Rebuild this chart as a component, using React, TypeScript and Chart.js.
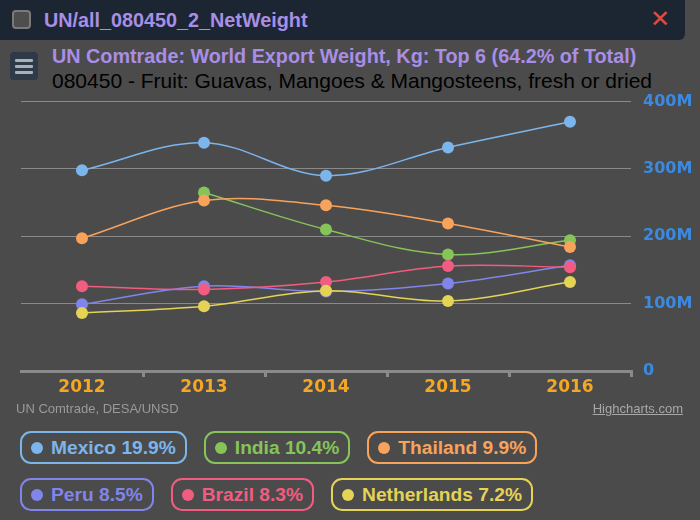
import React, { useEffect, useRef } from "react";
import { Chart, registerables } from "chart.js";

Chart.register(...registerables);

const years = ["2012", "2013", "2014", "2015", "2016"];
const yTicks = [0, 100e6, 200e6, 300e6, 400e6];

const mexico = [298e6, 339e6, 290e6, 332e6, 370e6];
const india = [null, 265e6, 210e6, 173e6, 194e6];
const thailand = [197e6, 253e6, 246e6, 219e6, 184e6];
const peru = [99e6, 126e6, 118e6, 130e6, 157e6];
const brazil = [126e6, 121e6, 132e6, 156e6, 154e6];
const netherlands = [86e6, 96e6, 119e6, 104e6, 132e6];

const seriesNames = ["Mexico", "India", "Thailand", "Peru", "Brazil", "Netherlands"];
const seriesShares = ["19.9%", "10.4%", "9.9%", "8.5%", "8.3%", "7.2%"];
const seriesColors = ["#7cb5ec", "#86c45a", "#f7a35c", "#8085e9", "#f15c80", "#e4d354"];
const seriesData = [mexico, india, thailand, peru, brazil, netherlands];

const BG = "#4b4b4b";

function LegendBox({ i }: { i: number }) {
  const c = seriesColors[i];
  return (
    <div
      style={{
        display: "inline-flex",
        alignItems: "center",
        border: `2px solid ${c}`,
        borderRadius: 11,
        height: 29,
        padding: "0 9px 0 9px",
        marginRight: 17,
        color: c,
        fontFamily: "'Liberation Sans', Arial, sans-serif",
        fontWeight: "bold",
        fontSize: 19.2,
        boxSizing: "content-box",
      }}
    >
      <span
        style={{
          display: "inline-block",
          width: 12,
          height: 12,
          borderRadius: 6,
          background: c,
          marginRight: 8,
        }}
      />
      <span>{`${seriesNames[i]} ${seriesShares[i]}`}</span>
    </div>
  );
}

export default function App() {
  const ref = useRef<HTMLCanvasElement | null>(null);

  useEffect(() => {
    if (!ref.current) return;
    const chart = new Chart(ref.current, {
      type: "line",
      data: {
        labels: years,
        datasets: seriesData.map((d, i) => ({
          label: seriesNames[i],
          data: d,
          borderColor: seriesColors[i],
          backgroundColor: seriesColors[i],
          pointBackgroundColor: seriesColors[i],
          pointBorderWidth: 0,
          pointRadius: 6,
          borderWidth: 1.5,
          tension: 0.35,
          fill: false,
          order: 5 - i,
        })),
      },
      options: {
        animation: false,
        responsive: false,
        maintainAspectRatio: false,
        layout: { padding: { left: 21, top: 0, right: 0, bottom: 0 } },
        plugins: {
          legend: { display: false },
          tooltip: { enabled: false },
          title: { display: false },
        },
        scales: {
          x: {
            type: "category",
            offset: true,
            afterFit: (s: any) => {
              s.height = 49;
            },
            border: { display: true, color: "#8a8a8a", width: 3 },
            grid: {
              offset: true,
              drawOnChartArea: false,
              drawTicks: true,
              tickLength: 6,
              lineWidth: 3,
              color: (ctx: any) => (ctx.index === 0 ? "rgba(0,0,0,0)" : "#8a8a8a"),
            },
            ticks: {
              color: "#f5a623",
              font: { family: "'DejaVu Sans'", weight: "bold", size: 17 },
              padding: 0,
            },
          },
          y: {
            position: "right",
            min: 0,
            max: 400e6,
            afterFit: (s: any) => {
              s.width = 69;
            },
            afterBuildTicks: (s: any) => {
              s.ticks = yTicks.map((v) => ({ value: v }));
            },
            border: { display: false },
            grid: { color: "#8a8a8a", lineWidth: 1, drawTicks: false },
            ticks: {
              color: "#3b8ae0",
              padding: 12,
              font: { family: "'DejaVu Sans'", weight: "bold", size: 16 },
              callback: (v: any) => (v === 0 ? "0" : `${Number(v) / 1e6}M`),
            },
          },
        },
      },
    });
    return () => chart.destroy();
  }, []);

  return (
    <div
      style={{
        position: "fixed",
        left: 0,
        top: 0,
        width: 700,
        height: 520,
        background: BG,
        overflow: "hidden",
        fontFamily: "'Liberation Sans', Arial, sans-serif",
      }}
    >
      {/* header bar */}
      <div
        style={{
          position: "absolute",
          left: 0,
          top: 0,
          width: 685,
          height: 40,
          background: "#1b2632",
          borderBottomRightRadius: 6,
        }}
      >
        <div
          style={{
            position: "absolute",
            left: 12,
            top: 10,
            width: 15,
            height: 15,
            borderRadius: 4,
            background: "#4e4e4e",
            border: "2px solid #7a7a7a",
          }}
        />
        <div
          style={{
            position: "absolute",
            left: 44,
            top: 8,
            color: "#a98ee6",
            fontWeight: "bold",
            fontSize: 19.8,
            lineHeight: "24px",
          }}
        >
          UN/all_080450_2_NetWeight
        </div>
        <div
          style={{
            position: "absolute",
            left: 650,
            top: 4,
            color: "#e8473a",
            fontFamily: "'DejaVu Sans'",
            fontSize: 24,
            lineHeight: "30px",
          }}
        >
          ✕
        </div>
      </div>

      {/* hamburger */}
      <div
        style={{
          position: "absolute",
          left: 10,
          top: 52,
          width: 28,
          height: 28,
          borderRadius: 4,
          background: "#2e3a47",
        }}
      >
        {[7, 13, 19].map((t) => (
          <div
            key={t}
            style={{
              position: "absolute",
              left: 5,
              top: t,
              width: 18,
              height: 3,
              background: "#a9b0b8",
              borderRadius: 1,
            }}
          />
        ))}
      </div>

      {/* titles */}
      <div
        style={{
          position: "absolute",
          left: 52,
          top: 45,
          color: "#a98ee6",
          fontWeight: "bold",
          fontSize: 19.8,
          lineHeight: "22px",
          whiteSpace: "nowrap",
        }}
      >
        UN Comtrade: World Export Weight, Kg: Top 6 (64.2% of Total)
      </div>
      <div
        style={{
          position: "absolute",
          left: 52,
          top: 70,
          color: "#000000",
          fontSize: 21,
          lineHeight: "22px",
          whiteSpace: "nowrap",
        }}
      >
        080450 - Fruit: Guavas, Mangoes &amp; Mangosteens, fresh or dried
      </div>

      <canvas
        ref={ref}
        width={700}
        height={340}
        style={{ position: "absolute", left: 0, top: 80, width: 700, height: 340 }}
      />

      {/* credits */}
      <div
        style={{
          position: "absolute",
          left: 16,
          top: 401,
          color: "#9a9a9a",
          fontSize: 13,
          lineHeight: "16px",
        }}
      >
        UN Comtrade, DESA/UNSD
      </div>
      <div
        style={{
          position: "absolute",
          right: 17,
          top: 401,
          color: "#a8a8a8",
          fontSize: 13,
          lineHeight: "16px",
          textDecoration: "underline",
        }}
      >
        Highcharts.com
      </div>

      {/* legend */}
      <div style={{ position: "absolute", left: 20, top: 431 }}>
        <LegendBox i={0} />
        <LegendBox i={1} />
        <LegendBox i={2} />
      </div>
      <div style={{ position: "absolute", left: 20, top: 478 }}>
        <LegendBox i={3} />
        <LegendBox i={4} />
        <LegendBox i={5} />
      </div>
    </div>
  );
}
